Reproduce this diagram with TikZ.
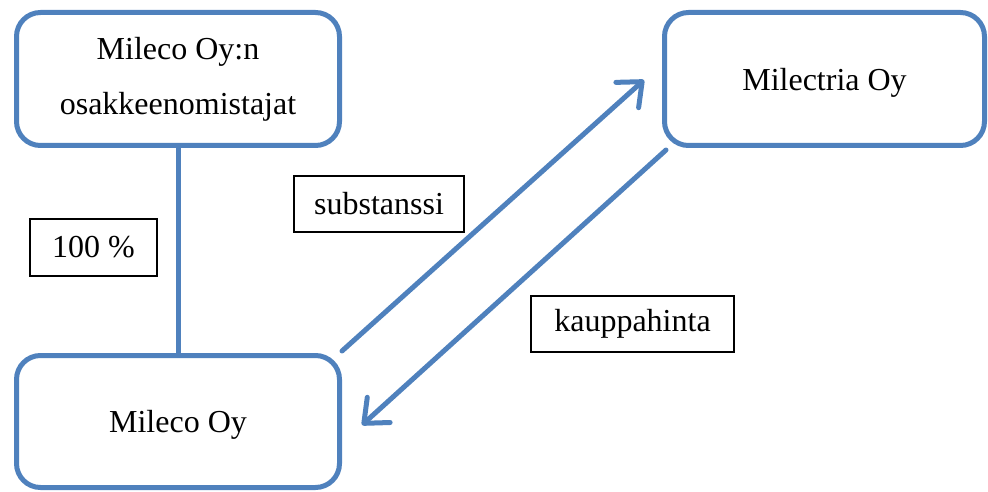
\documentclass[tikz,border=0pt]{standalone}
\usepackage{fontspec}
\setmainfont{Liberation Serif}
\usetikzlibrary{arrows.meta,calc}
\definecolor{officeblue}{HTML}{4F81BD}
\begin{document}
\begin{tikzpicture}[x=1pt,y=-1pt,
  every node/.style={font=\fontsize{32}{55}\selectfont},
  entity/.style={draw=officeblue, line width=5pt, rounded corners=24pt,
    fill=white, align=center, inner sep=0pt},
  oneline/.style={text depth=0pt},
  tag/.style={draw=black, line width=2pt, fill=white, inner sep=0pt},
  link/.style={draw=officeblue, line width=5pt},
  flow/.style={link, line cap=round, line join=round,
    -{Straight Barb[length=20pt,width=34pt,line cap=round,line join=round]}}
]
\useasboundingbox (0,0) rectangle (988,492);

% companies
\node[entity, minimum width=323pt, minimum height=133pt] (owners) at (178,79)
  {Mileco Oy:n\\osakkeenomistajat};
\node[entity, oneline, minimum width=323pt, minimum height=132pt] (company) at (178,421.5)
  {Mileco Oy};
\node[entity, oneline, minimum width=320pt, minimum height=133pt] (target) at (824.5,79)
  {Milectria Oy};

% labels
\node[tag, minimum width=127pt, minimum height=57pt] (share) at (93.5,247.5) {100 \%};
\node[tag, minimum width=170pt, minimum height=56pt] (subst) at (379,204) {substanssi};
\node[tag, minimum width=203pt, minimum height=56pt] (price) at (632.5,324) {kauppahinta};

% ownership
\draw[link] (owners.south) -- (company.north);

% transaction flows
\coordinate (s1) at ($(company.north east)+(0,-2)$);
\coordinate (e1) at ($(target.west)+(-18,1)$);
\coordinate (s2) at ($(target.south west)+(4,2)$);
\coordinate (e2) at ($(company.east)+(20,3.5)$);
\draw[flow] (s1) -- (e1);
\draw[flow] (s2) -- (e2);
\end{tikzpicture}
\end{document}
